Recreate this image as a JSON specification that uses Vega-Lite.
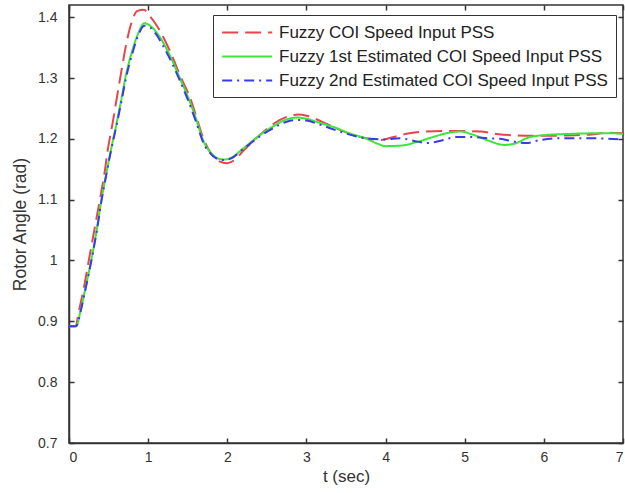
{
  "$schema": "https://vega.github.io/schema/vega-lite/v6.json",
  "width": 554,
  "height": 438,
  "autosize": {"type": "none"},
  "padding": {"left": 69, "top": 5, "right": 2, "bottom": 50},
  "background": "white",
  "config": {
    "view": {"stroke": "#333", "strokeWidth": 1.5},
    "font": "Liberation Sans",
    "axis": {"grid": false, "domainColor": "#333", "domainWidth": 1.5, "tickColor": "#333", "tickWidth": 1.5, "labelColor": "#333", "titleColor": "#333", "labelFont": "Liberation Sans", "titleFont": "Liberation Sans", "titleFontWeight": "normal"}
  },
  "datasets": {
    "curves": [
      {"t": 0, "v": 0.892, "s": "Fuzzy COI Speed Input PSS"},
      {"t": 0.08, "v": 0.892, "s": "Fuzzy COI Speed Input PSS"},
      {"t": 0.13, "v": 0.92, "s": "Fuzzy COI Speed Input PSS"},
      {"t": 0.18, "v": 0.95, "s": "Fuzzy COI Speed Input PSS"},
      {"t": 0.25, "v": 1.0, "s": "Fuzzy COI Speed Input PSS"},
      {"t": 0.32, "v": 1.05, "s": "Fuzzy COI Speed Input PSS"},
      {"t": 0.39, "v": 1.1, "s": "Fuzzy COI Speed Input PSS"},
      {"t": 0.45, "v": 1.145, "s": "Fuzzy COI Speed Input PSS"},
      {"t": 0.49, "v": 1.182, "s": "Fuzzy COI Speed Input PSS"},
      {"t": 0.55, "v": 1.225, "s": "Fuzzy COI Speed Input PSS"},
      {"t": 0.6, "v": 1.264, "s": "Fuzzy COI Speed Input PSS"},
      {"t": 0.66, "v": 1.31, "s": "Fuzzy COI Speed Input PSS"},
      {"t": 0.73, "v": 1.36, "s": "Fuzzy COI Speed Input PSS"},
      {"t": 0.8, "v": 1.395, "s": "Fuzzy COI Speed Input PSS"},
      {"t": 0.86, "v": 1.41, "s": "Fuzzy COI Speed Input PSS"},
      {"t": 0.95, "v": 1.412, "s": "Fuzzy COI Speed Input PSS"},
      {"t": 1.0, "v": 1.405, "s": "Fuzzy COI Speed Input PSS"},
      {"t": 1.1, "v": 1.388, "s": "Fuzzy COI Speed Input PSS"},
      {"t": 1.2, "v": 1.365, "s": "Fuzzy COI Speed Input PSS"},
      {"t": 1.3, "v": 1.337, "s": "Fuzzy COI Speed Input PSS"},
      {"t": 1.4, "v": 1.305, "s": "Fuzzy COI Speed Input PSS"},
      {"t": 1.54, "v": 1.264, "s": "Fuzzy COI Speed Input PSS"},
      {"t": 1.6, "v": 1.24, "s": "Fuzzy COI Speed Input PSS"},
      {"t": 1.7, "v": 1.2, "s": "Fuzzy COI Speed Input PSS"},
      {"t": 1.8, "v": 1.175, "s": "Fuzzy COI Speed Input PSS"},
      {"t": 1.9, "v": 1.163, "s": "Fuzzy COI Speed Input PSS"},
      {"t": 2.0, "v": 1.16, "s": "Fuzzy COI Speed Input PSS"},
      {"t": 2.1, "v": 1.166, "s": "Fuzzy COI Speed Input PSS"},
      {"t": 2.2, "v": 1.18, "s": "Fuzzy COI Speed Input PSS"},
      {"t": 2.4, "v": 1.205, "s": "Fuzzy COI Speed Input PSS"},
      {"t": 2.6, "v": 1.226, "s": "Fuzzy COI Speed Input PSS"},
      {"t": 2.75, "v": 1.236, "s": "Fuzzy COI Speed Input PSS"},
      {"t": 2.9, "v": 1.24, "s": "Fuzzy COI Speed Input PSS"},
      {"t": 3.0, "v": 1.238, "s": "Fuzzy COI Speed Input PSS"},
      {"t": 3.2, "v": 1.228, "s": "Fuzzy COI Speed Input PSS"},
      {"t": 3.4, "v": 1.216, "s": "Fuzzy COI Speed Input PSS"},
      {"t": 3.6, "v": 1.206, "s": "Fuzzy COI Speed Input PSS"},
      {"t": 3.8, "v": 1.2, "s": "Fuzzy COI Speed Input PSS"},
      {"t": 3.93, "v": 1.198, "s": "Fuzzy COI Speed Input PSS"},
      {"t": 4.1, "v": 1.203, "s": "Fuzzy COI Speed Input PSS"},
      {"t": 4.3, "v": 1.209, "s": "Fuzzy COI Speed Input PSS"},
      {"t": 4.5, "v": 1.212, "s": "Fuzzy COI Speed Input PSS"},
      {"t": 4.9, "v": 1.213, "s": "Fuzzy COI Speed Input PSS"},
      {"t": 5.2, "v": 1.212, "s": "Fuzzy COI Speed Input PSS"},
      {"t": 5.4, "v": 1.208, "s": "Fuzzy COI Speed Input PSS"},
      {"t": 5.6, "v": 1.206, "s": "Fuzzy COI Speed Input PSS"},
      {"t": 6.0, "v": 1.205, "s": "Fuzzy COI Speed Input PSS"},
      {"t": 6.4, "v": 1.206, "s": "Fuzzy COI Speed Input PSS"},
      {"t": 6.6, "v": 1.207, "s": "Fuzzy COI Speed Input PSS"},
      {"t": 6.8, "v": 1.21, "s": "Fuzzy COI Speed Input PSS"},
      {"t": 7.0, "v": 1.209, "s": "Fuzzy COI Speed Input PSS"},

      {"t": 0, "v": 0.892, "s": "Fuzzy 1st Estimated COI Speed Input PSS"},
      {"t": 0.09, "v": 0.892, "s": "Fuzzy 1st Estimated COI Speed Input PSS"},
      {"t": 0.15, "v": 0.92, "s": "Fuzzy 1st Estimated COI Speed Input PSS"},
      {"t": 0.2, "v": 0.95, "s": "Fuzzy 1st Estimated COI Speed Input PSS"},
      {"t": 0.28, "v": 1.0, "s": "Fuzzy 1st Estimated COI Speed Input PSS"},
      {"t": 0.35, "v": 1.05, "s": "Fuzzy 1st Estimated COI Speed Input PSS"},
      {"t": 0.41, "v": 1.1, "s": "Fuzzy 1st Estimated COI Speed Input PSS"},
      {"t": 0.47, "v": 1.142, "s": "Fuzzy 1st Estimated COI Speed Input PSS"},
      {"t": 0.53, "v": 1.182, "s": "Fuzzy 1st Estimated COI Speed Input PSS"},
      {"t": 0.6, "v": 1.225, "s": "Fuzzy 1st Estimated COI Speed Input PSS"},
      {"t": 0.66, "v": 1.264, "s": "Fuzzy 1st Estimated COI Speed Input PSS"},
      {"t": 0.72, "v": 1.305, "s": "Fuzzy 1st Estimated COI Speed Input PSS"},
      {"t": 0.8, "v": 1.345, "s": "Fuzzy 1st Estimated COI Speed Input PSS"},
      {"t": 0.88, "v": 1.375, "s": "Fuzzy 1st Estimated COI Speed Input PSS"},
      {"t": 0.95, "v": 1.39, "s": "Fuzzy 1st Estimated COI Speed Input PSS"},
      {"t": 1.0, "v": 1.388, "s": "Fuzzy 1st Estimated COI Speed Input PSS"},
      {"t": 1.1, "v": 1.376, "s": "Fuzzy 1st Estimated COI Speed Input PSS"},
      {"t": 1.2, "v": 1.356, "s": "Fuzzy 1st Estimated COI Speed Input PSS"},
      {"t": 1.3, "v": 1.33, "s": "Fuzzy 1st Estimated COI Speed Input PSS"},
      {"t": 1.4, "v": 1.3, "s": "Fuzzy 1st Estimated COI Speed Input PSS"},
      {"t": 1.5, "v": 1.27, "s": "Fuzzy 1st Estimated COI Speed Input PSS"},
      {"t": 1.6, "v": 1.235, "s": "Fuzzy 1st Estimated COI Speed Input PSS"},
      {"t": 1.7, "v": 1.196, "s": "Fuzzy 1st Estimated COI Speed Input PSS"},
      {"t": 1.8, "v": 1.176, "s": "Fuzzy 1st Estimated COI Speed Input PSS"},
      {"t": 1.9, "v": 1.167, "s": "Fuzzy 1st Estimated COI Speed Input PSS"},
      {"t": 1.97, "v": 1.166, "s": "Fuzzy 1st Estimated COI Speed Input PSS"},
      {"t": 2.05, "v": 1.169, "s": "Fuzzy 1st Estimated COI Speed Input PSS"},
      {"t": 2.2, "v": 1.184, "s": "Fuzzy 1st Estimated COI Speed Input PSS"},
      {"t": 2.4, "v": 1.205, "s": "Fuzzy 1st Estimated COI Speed Input PSS"},
      {"t": 2.6, "v": 1.222, "s": "Fuzzy 1st Estimated COI Speed Input PSS"},
      {"t": 2.75, "v": 1.232, "s": "Fuzzy 1st Estimated COI Speed Input PSS"},
      {"t": 2.88, "v": 1.235, "s": "Fuzzy 1st Estimated COI Speed Input PSS"},
      {"t": 3.0, "v": 1.233, "s": "Fuzzy 1st Estimated COI Speed Input PSS"},
      {"t": 3.15, "v": 1.227, "s": "Fuzzy 1st Estimated COI Speed Input PSS"},
      {"t": 3.33, "v": 1.22, "s": "Fuzzy 1st Estimated COI Speed Input PSS"},
      {"t": 3.55, "v": 1.209, "s": "Fuzzy 1st Estimated COI Speed Input PSS"},
      {"t": 3.76, "v": 1.2, "s": "Fuzzy 1st Estimated COI Speed Input PSS"},
      {"t": 3.9, "v": 1.192, "s": "Fuzzy 1st Estimated COI Speed Input PSS"},
      {"t": 4.0, "v": 1.188, "s": "Fuzzy 1st Estimated COI Speed Input PSS"},
      {"t": 4.2, "v": 1.189, "s": "Fuzzy 1st Estimated COI Speed Input PSS"},
      {"t": 4.4, "v": 1.195, "s": "Fuzzy 1st Estimated COI Speed Input PSS"},
      {"t": 4.6, "v": 1.203, "s": "Fuzzy 1st Estimated COI Speed Input PSS"},
      {"t": 4.8, "v": 1.21, "s": "Fuzzy 1st Estimated COI Speed Input PSS"},
      {"t": 4.95, "v": 1.212, "s": "Fuzzy 1st Estimated COI Speed Input PSS"},
      {"t": 5.1, "v": 1.207, "s": "Fuzzy 1st Estimated COI Speed Input PSS"},
      {"t": 5.3, "v": 1.197, "s": "Fuzzy 1st Estimated COI Speed Input PSS"},
      {"t": 5.5, "v": 1.19, "s": "Fuzzy 1st Estimated COI Speed Input PSS"},
      {"t": 5.65, "v": 1.193, "s": "Fuzzy 1st Estimated COI Speed Input PSS"},
      {"t": 5.8, "v": 1.202, "s": "Fuzzy 1st Estimated COI Speed Input PSS"},
      {"t": 6.0, "v": 1.206, "s": "Fuzzy 1st Estimated COI Speed Input PSS"},
      {"t": 6.3, "v": 1.208, "s": "Fuzzy 1st Estimated COI Speed Input PSS"},
      {"t": 6.6, "v": 1.209, "s": "Fuzzy 1st Estimated COI Speed Input PSS"},
      {"t": 6.9, "v": 1.209, "s": "Fuzzy 1st Estimated COI Speed Input PSS"},
      {"t": 7.0, "v": 1.208, "s": "Fuzzy 1st Estimated COI Speed Input PSS"},

      {"t": 0, "v": 0.892, "s": "Fuzzy 2nd Estimated COI Speed Input PSS"},
      {"t": 0.09, "v": 0.892, "s": "Fuzzy 2nd Estimated COI Speed Input PSS"},
      {"t": 0.15, "v": 0.918, "s": "Fuzzy 2nd Estimated COI Speed Input PSS"},
      {"t": 0.2, "v": 0.948, "s": "Fuzzy 2nd Estimated COI Speed Input PSS"},
      {"t": 0.28, "v": 0.998, "s": "Fuzzy 2nd Estimated COI Speed Input PSS"},
      {"t": 0.35, "v": 1.048, "s": "Fuzzy 2nd Estimated COI Speed Input PSS"},
      {"t": 0.41, "v": 1.098, "s": "Fuzzy 2nd Estimated COI Speed Input PSS"},
      {"t": 0.47, "v": 1.14, "s": "Fuzzy 2nd Estimated COI Speed Input PSS"},
      {"t": 0.53, "v": 1.18, "s": "Fuzzy 2nd Estimated COI Speed Input PSS"},
      {"t": 0.6, "v": 1.222, "s": "Fuzzy 2nd Estimated COI Speed Input PSS"},
      {"t": 0.66, "v": 1.26, "s": "Fuzzy 2nd Estimated COI Speed Input PSS"},
      {"t": 0.72, "v": 1.3, "s": "Fuzzy 2nd Estimated COI Speed Input PSS"},
      {"t": 0.8, "v": 1.34, "s": "Fuzzy 2nd Estimated COI Speed Input PSS"},
      {"t": 0.88, "v": 1.372, "s": "Fuzzy 2nd Estimated COI Speed Input PSS"},
      {"t": 0.95, "v": 1.386, "s": "Fuzzy 2nd Estimated COI Speed Input PSS"},
      {"t": 1.0, "v": 1.385, "s": "Fuzzy 2nd Estimated COI Speed Input PSS"},
      {"t": 1.1, "v": 1.372, "s": "Fuzzy 2nd Estimated COI Speed Input PSS"},
      {"t": 1.2, "v": 1.35, "s": "Fuzzy 2nd Estimated COI Speed Input PSS"},
      {"t": 1.3, "v": 1.325, "s": "Fuzzy 2nd Estimated COI Speed Input PSS"},
      {"t": 1.4, "v": 1.296, "s": "Fuzzy 2nd Estimated COI Speed Input PSS"},
      {"t": 1.5, "v": 1.265, "s": "Fuzzy 2nd Estimated COI Speed Input PSS"},
      {"t": 1.6, "v": 1.23, "s": "Fuzzy 2nd Estimated COI Speed Input PSS"},
      {"t": 1.7, "v": 1.193, "s": "Fuzzy 2nd Estimated COI Speed Input PSS"},
      {"t": 1.8, "v": 1.174, "s": "Fuzzy 2nd Estimated COI Speed Input PSS"},
      {"t": 1.9, "v": 1.166, "s": "Fuzzy 2nd Estimated COI Speed Input PSS"},
      {"t": 1.97, "v": 1.165, "s": "Fuzzy 2nd Estimated COI Speed Input PSS"},
      {"t": 2.05, "v": 1.168, "s": "Fuzzy 2nd Estimated COI Speed Input PSS"},
      {"t": 2.2, "v": 1.183, "s": "Fuzzy 2nd Estimated COI Speed Input PSS"},
      {"t": 2.4, "v": 1.203, "s": "Fuzzy 2nd Estimated COI Speed Input PSS"},
      {"t": 2.6, "v": 1.219, "s": "Fuzzy 2nd Estimated COI Speed Input PSS"},
      {"t": 2.75, "v": 1.228, "s": "Fuzzy 2nd Estimated COI Speed Input PSS"},
      {"t": 2.9, "v": 1.231, "s": "Fuzzy 2nd Estimated COI Speed Input PSS"},
      {"t": 3.0, "v": 1.23, "s": "Fuzzy 2nd Estimated COI Speed Input PSS"},
      {"t": 3.2, "v": 1.222, "s": "Fuzzy 2nd Estimated COI Speed Input PSS"},
      {"t": 3.4, "v": 1.213, "s": "Fuzzy 2nd Estimated COI Speed Input PSS"},
      {"t": 3.6, "v": 1.205, "s": "Fuzzy 2nd Estimated COI Speed Input PSS"},
      {"t": 3.8, "v": 1.2, "s": "Fuzzy 2nd Estimated COI Speed Input PSS"},
      {"t": 4.0, "v": 1.199, "s": "Fuzzy 2nd Estimated COI Speed Input PSS"},
      {"t": 4.18, "v": 1.201, "s": "Fuzzy 2nd Estimated COI Speed Input PSS"},
      {"t": 4.35, "v": 1.197, "s": "Fuzzy 2nd Estimated COI Speed Input PSS"},
      {"t": 4.52, "v": 1.193, "s": "Fuzzy 2nd Estimated COI Speed Input PSS"},
      {"t": 4.7, "v": 1.197, "s": "Fuzzy 2nd Estimated COI Speed Input PSS"},
      {"t": 4.9, "v": 1.203, "s": "Fuzzy 2nd Estimated COI Speed Input PSS"},
      {"t": 5.1, "v": 1.203, "s": "Fuzzy 2nd Estimated COI Speed Input PSS"},
      {"t": 5.3, "v": 1.201, "s": "Fuzzy 2nd Estimated COI Speed Input PSS"},
      {"t": 5.45, "v": 1.2, "s": "Fuzzy 2nd Estimated COI Speed Input PSS"},
      {"t": 5.6, "v": 1.196, "s": "Fuzzy 2nd Estimated COI Speed Input PSS"},
      {"t": 5.78, "v": 1.193, "s": "Fuzzy 2nd Estimated COI Speed Input PSS"},
      {"t": 5.95, "v": 1.198, "s": "Fuzzy 2nd Estimated COI Speed Input PSS"},
      {"t": 6.2, "v": 1.201, "s": "Fuzzy 2nd Estimated COI Speed Input PSS"},
      {"t": 6.6, "v": 1.201, "s": "Fuzzy 2nd Estimated COI Speed Input PSS"},
      {"t": 7.0, "v": 1.199, "s": "Fuzzy 2nd Estimated COI Speed Input PSS"}
    ]
  },
  "data": {"name": "curves"},
  "layer": [
    {
      "mark": {"type": "line", "strokeWidth": 2, "interpolate": "monotone", "clip": true},
      "encoding": {
        "x": {"field": "t", "type": "quantitative", "scale": {"domain": [0, 7], "nice": false},
          "axis": {"title": "t (sec)", "orient": "bottom", "values": [0,1,2,3,4,5,6,7], "tickSize": -5, "labelPadding": 12, "labelFontSize": 14, "titleFontSize": 17, "titlePadding": 4}},
        "y": {"field": "v", "type": "quantitative", "scale": {"domain": [0.7, 1.42], "nice": false, "zero": false},
          "axis": {"title": "Rotor Angle (rad)", "orient": "left", "values": [0.7,0.8,0.9,1,1.1,1.2,1.3,1.4], "labelExpr": "format(datum.value, '~g')", "tickSize": -5, "labelPadding": 17, "labelFontSize": 14, "titleFontSize": 17.5, "titlePadding": 8}},
        "color": {"field": "s", "type": "nominal",
          "scale": {"domain": ["Fuzzy COI Speed Input PSS", "Fuzzy 1st Estimated COI Speed Input PSS", "Fuzzy 2nd Estimated COI Speed Input PSS"], "range": ["#e8444c", "#3ae63a", "#3a3ae8"]},
          "legend": {"orient": "none", "legendX": 144, "legendY": 10, "title": null, "symbolType": "M-1,0H5", "symbolSize": 278, "symbolStrokeWidth": 2, "labelFontSize": 17, "labelFont": "Liberation Sans", "labelColor": "#222", "labelOffset": 39, "strokeColor": "#333", "fillColor": "white", "padding": 8, "rowPadding": 6, "labelLimit": 500}},
        "strokeDash": {"field": "s", "type": "nominal",
          "scale": {"domain": ["Fuzzy COI Speed Input PSS", "Fuzzy 1st Estimated COI Speed Input PSS", "Fuzzy 2nd Estimated COI Speed Input PSS"], "range": [[16, 7], [1, 0], [10, 5, 2, 5]]},
          "legend": null}
      }
    },
    {
      "mark": {"type": "line", "opacity": 0},
      "encoding": {
        "x": {"field": "t", "type": "quantitative", "axis": {"title": null, "orient": "top", "labels": false, "values": [0,1,2,3,4,5,6,7], "tickSize": -5, "domain": false}},
        "y": {"field": "v", "type": "quantitative", "axis": {"title": null, "orient": "right", "labels": false, "values": [0.7,0.8,0.9,1,1.1,1.2,1.3,1.4], "tickSize": -5, "domain": false}}
      }
    }
  ],
  "resolve": {"axis": {"x": "independent", "y": "independent"}}
}
